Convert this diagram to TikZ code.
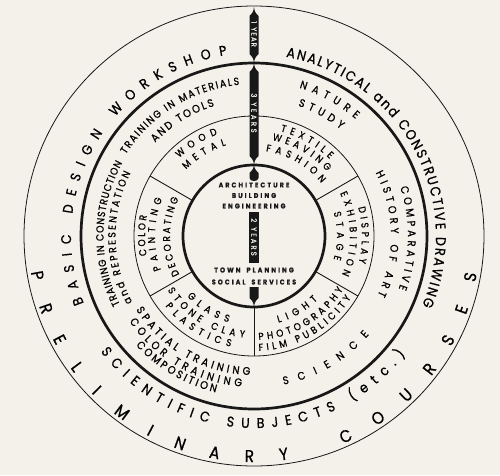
\documentclass[tikz,border=0pt]{standalone}
\usepackage{fontspec}
\setmainfont{Poppins}[FakeStretch=0.9, FakeBold=0.8]
\usetikzlibrary{decorations.text}
\definecolor{paper}{RGB}{243,241,234}
\definecolor{ink}{RGB}{24,24,24}
\tikzset{
  thinring/.style={draw=ink, line width=0.8pt},
  thickring/.style={draw=ink, line width=2.7pt},
  divider/.style={draw=ink, line width=0.9pt},
  yeartext/.style={text=paper, rotate=-90, inner sep=0pt, font=\fontsize{7.5}{8}\selectfont},
  coretext/.style={text=ink, inner sep=0pt, font=\fontsize{7}{8}\selectfont\bfseries\addfontfeature{LetterSpace=30}},
}
\def\outerfont{\fontsize{14}{16}\selectfont}
\def\prefont{\fontsize{17}{20}\selectfont}
\def\midfont{\fontsize{11}{13}\selectfont}
\def\longfont{\fontsize{10.4}{12}\selectfont}
\def\craftfont{\fontsize{10}{12}\selectfont}
% text on a circle: [font](radius:from:to){text}
\def\arctext[#1](#2:#3:#4)#5{\path[decorate,decoration={text along path,text={|#1|#5},text align={fit to path}}] (#3:#2) arc[start angle=#3, end angle=#4, radius=#2];}
% black bar piece with pointed ends
\def\yearbar(#1:#2){\fill[ink] (0,#1) .. controls (0.8,#1-5) .. (4.5,#1-9) -- (4.5,#2+9) .. controls (0.8,#2+5) .. (0,#2) .. controls (-0.8,#2+5) .. (-4.5,#2+9) -- (-4.5,#1-9) .. controls (-0.8,#1-5) .. (0,#1) -- cycle;}

\begin{document}
\begin{tikzpicture}[x=1pt, y=1pt, color=ink]
	%%%%% START %%%%%
	
	\fill[paper] (-254,-239) rectangle (246,236);
	\useasboundingbox (-254,-239) rectangle (246,236);
	
	\draw[thinring] (0,0) circle (230);
	\draw[thickring] (0,0) circle (173);
	\draw[thinring] (0,0) circle (120);
	\draw[thickring] (0,0) circle (71);
	
	\foreach \a in {30,150,210,330}
		\draw[divider] (\a:71) -- (\a:120);
	\draw[divider] (0,-71) -- (0,-120);
	
	% outer ring
	\arctext[\outerfont](183:201.6:98.4){BASIC DESIGN WORKSHOP}
	\arctext[\outerfont](182:79.9:-22.5){ANALYTICAL and CONSTRUCTIVE DRAWING}
	\arctext[\outerfont](192:217:322){SCIENTIFIC SUBJECTS (etc.)}
	\arctext[\prefont](226:189.2:350.4){PRELIMINARY COURSES}
	
	% second ring
	\arctext[\longfont](150.5:207:151){TRAINING IN CONSTRUCTION}
	\arctext[\longfont](138.5:208.5:153){and REPRESENTATION}
	\arctext[\longfont](152:147.5:95.5){TRAINING IN MATERIALS}
	\arctext[\midfont](136:136.6:106.9){AND TOOLS}
	\arctext[\midfont](155:73:49){NATURE}
	\arctext[\midfont](137.5:71.3:50.9){STUDY}
	\arctext[\midfont](154:18.4:-20.1){COMPARATIVE}
	\arctext[\midfont](137:27.5:-25.6){HISTORY OF ART}
	\arctext[\midfont](139:212:268.4){SPATIAL TRAINING}
	\arctext[\midfont](151:214.4:265.3){COLOR TRAINING}
	\arctext[\midfont](161:222.8:256.3){COMPOSITION}
	\arctext[\midfont](151.5:281.3:319.4){SCIENCE}
	
	% workshop ring
	\arctext[\craftfont](108:133.8:109.7){WOOD}
	\arctext[\craftfont](95:135.6:107.1){METAL}
	\arctext[\craftfont](108:75.8:45.5){TEXTILE}
	\arctext[\craftfont](97.5:79.2:41.5){WEAVING}
	\arctext[\craftfont](85.5:82:38.1){FASHION}
	\arctext[\craftfont](108:15.3:-14.3){DISPLAY}
	\arctext[\craftfont](96:26.4:-23.7){EXHIBITION}
	\arctext[\craftfont](83:16.4:-16.4){STAGE}
	\arctext[\craftfont](90:285.7:315){LIGHT}
	\arctext[\craftfont](104:272.6:329){PHOTOGRAPHY}
	\arctext[\craftfont](115:272.4:327.5){FILM PUBLICITY}
	\arctext[\craftfont](90:222:253.5){GLASS}
	\arctext[\craftfont](102:212.1:264.7){STONE CLAY}
	\arctext[\craftfont](113:218.3:258.1){PLASTICS}
	\arctext[\craftfont](109:190.3:169.2){COLOR}
	\arctext[\craftfont](99:200:158){PAINTING}
	\arctext[\craftfont](84:207.4:153.6){DECORATING}
	
	% the bar of years
	\yearbar(229:173)
	\yearbar(173:71)
	\fill[ink] (0,71) .. controls (0.8,67) .. (4.5,63) -- (4.5,58) .. controls (4.5,54) and (-4.5,54) .. (-4.5,58) -- (-4.5,63) .. controls (-0.8,67) .. (0,71) -- cycle;
	\fill[ink] (-5,24) rectangle (5,-27);
	\fill[ink] (-4.5,-51) -- (4.5,-51) -- (4.5,-62) .. controls (0.8,-66) .. (0,-71) .. controls (-0.8,-66) .. (-4.5,-62) -- cycle;
	
	\node[yeartext, font=\fontsize{7.5}{8}\selectfont\addfontfeature{LetterSpace=15}] (oneyear) at (0,202) {1\hspace{4pt}YEAR};
	\node[yeartext, font=\fontsize{7.5}{8}\selectfont\addfontfeature{LetterSpace=34}] (threeyears) at (0,123) {3\hspace{5pt}YEARS};
	\node[yeartext, font=\fontsize{7.5}{8}\selectfont\addfontfeature{LetterSpace=28}] (twoyears) at (0,-1) {2\hspace{5pt}YEARS};
	
	% centre
	\node[coretext] (arch) at (0,51) {ARCHITECTURE};
	\node[coretext] (build) at (0,40.5) {BUILDING};
	\node[coretext] (eng) at (0,30) {ENGINEERING};
	\node[coretext] (town) at (0,-34) {TOWN\hspace{6pt}PLANNING};
	\node[coretext] (social) at (0,-46) {SOCIAL\hspace{6pt}SERVICES};
	
	%%%%% END %%%%%
\end{tikzpicture}
\end{document}
